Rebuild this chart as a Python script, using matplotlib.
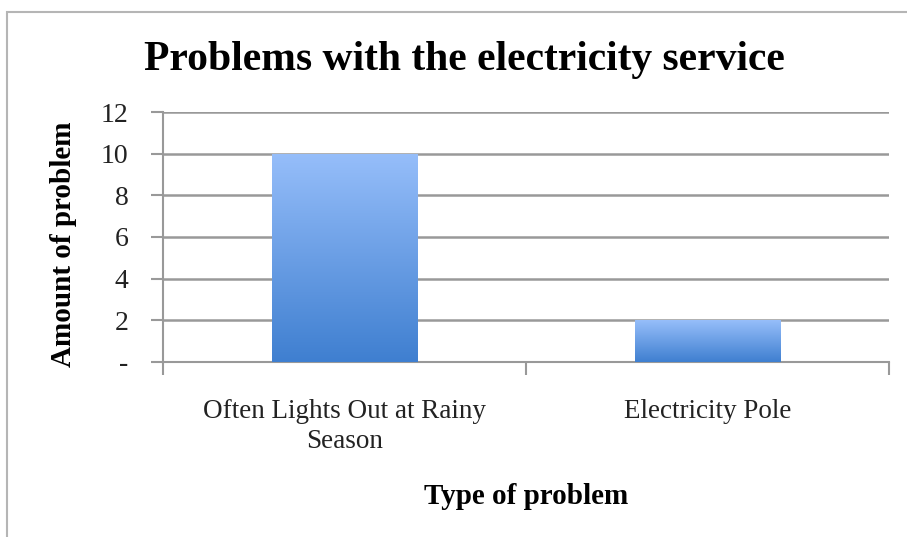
import numpy as np
import matplotlib.pyplot as plt
from matplotlib.patches import Rectangle
from matplotlib.colors import LinearSegmentedColormap

problems = ['Often Lights Out at Rainy\nSeason', 'Electricity Pole']
amounts = [10, 2]
yticks = [0, 2, 4, 6, 8, 10, 12]
ytick_labels = ['-', '2', '4', '6', '8', '10', '12']

plt.rcParams['font.family'] = ['Liberation Serif', 'DejaVu Serif']

W, H = 907, 537
fig = plt.figure(figsize=(W / 100, H / 100), dpi=100)
fig.patch.set_facecolor('white')

# outer chart frame (open towards right and bottom edge)
fig.add_artist(Rectangle((7 / W, -0.1), 1.2, 1.1 - 12 / H,
                         transform=fig.transFigure, fill=False,
                         edgecolor='#b5b5b5', linewidth=1.5))

ax = fig.add_axes([163 / W, 1 - 362 / H, (889 - 163) / W, 250 / H])

x = np.arange(len(problems))
bars = ax.bar(x, amounts, width=0.4, color='none', edgecolor='none', zorder=3)

grad = LinearSegmentedColormap.from_list('bluegrad', ['#3f7fd0', '#96befa'])
for b in bars:
    x0, y0 = b.get_x(), b.get_y()
    w, h = b.get_width(), b.get_height()
    im = ax.imshow(np.linspace(0, 1, 256).reshape(-1, 1), cmap=grad,
                   origin='lower', aspect='auto',
                   extent=[x0, x0 + w, y0, y0 + h], zorder=3)
    im.set_clip_path(b)

ax.set_xlim(-0.5, 1.5)
ax.set_ylim(0, 12)
ax.set_yticks(yticks)
ax.set_yticklabels(ytick_labels, fontsize=20)
ax.yaxis.grid(True, color='#999999', linewidth=1.8, zorder=0)
ax.set_axisbelow(True)

# category labels centred between boundary ticks
ax.set_xticks([-0.5, 0.5, 1.5])
ax.set_xticklabels([])
ax.set_xticks(x, minor=True)
ax.set_xticklabels(problems, minor=True, fontsize=19.5, linespacing=1.25,
                   color='#222222')
ax.tick_params(axis='x', which='minor', length=0, pad=27)
ax.tick_params(axis='x', which='major', length=9, color='#999999', width=1.5)
ax.tick_params(axis='y', length=9, color='#999999', width=1.5, pad=16,
               labelcolor='#222222')

for side in ['top', 'right']:
    ax.spines[side].set_visible(False)
for side in ['left', 'bottom']:
    ax.spines[side].set_color('#999999')
    ax.spines[side].set_linewidth(1.5)

ax.set_xlabel('Type of problem', fontsize=21, fontweight='bold', labelpad=21)
ax.set_ylabel('Amount of problem', fontsize=21, fontweight='bold')
ax.yaxis.set_label_coords(-86 / 726, (362 - 244) / 250)

fig.text(0.5 * (143 + 785) / W, 1 - 60 / H, 'Problems with the electricity service',
         ha='center', va='center', fontsize=30, fontweight='bold')

fig.savefig('out.png', dpi=100)
